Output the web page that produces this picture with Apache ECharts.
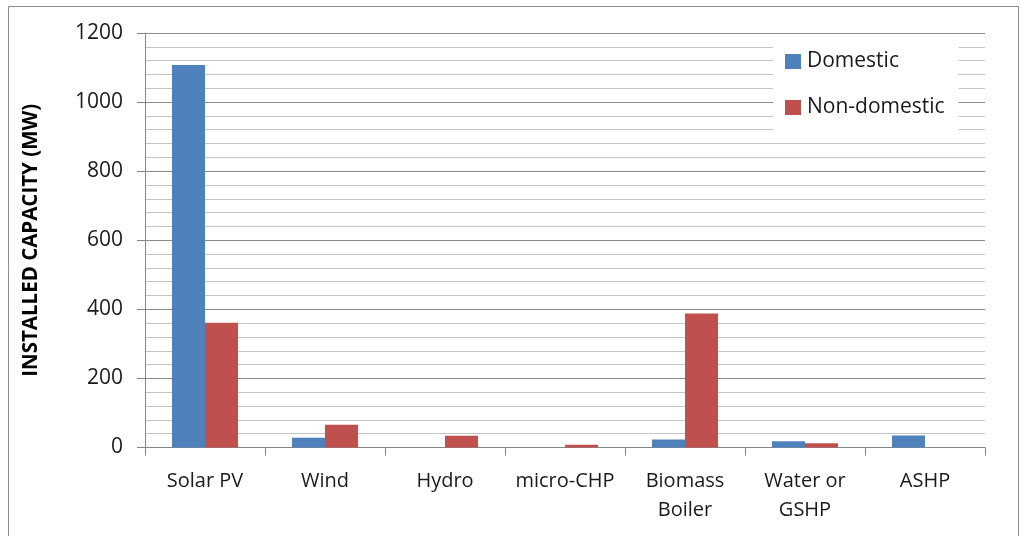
<!DOCTYPE html>
<html><head><meta charset="utf-8">
<script src="https://cdn.jsdelivr.net/npm/echarts@6/dist/echarts.min.js"></script>
<style>html,body{margin:0;padding:0;background:#fff}#c{width:1021px;height:536px}</style>
</head><body><div id="c"></div>
<script>
const categories = ['Solar PV','Wind','Hydro','micro-CHP','Biomass\nBoiler','Water or\nGSHP','ASHP'];
const domestic = [1107, 28, 0, 0, 23, 18, 35];
const nonDomestic = [361, 66, 34, 8, 388, 12, 0];
const yTicks = {min: 0, max: 1200, interval: 200};

const chart = echarts.init(document.getElementById('c'), null, {renderer: 'canvas'});
const font = 'Open Sans';
chart.setOption({
  animation: false,
  backgroundColor: '#fff',
  graphic: [{type: 'rect', shape: {x: 8.5, y: 6.5, width: 1010, height: 540}, style: {fill: 'none', stroke: '#8c8c8c', lineWidth: 1}, z: -1}],
  grid: {left: 145, right: 36, top: 33, bottom: 88.5, containLabel: false},
  legend: {
    orient: 'vertical', left: 773, top: 37,
    backgroundColor: '#fff', padding: [14, 14, 14, 12],
    itemWidth: 16, itemHeight: 15, itemGap: 25,
    icon: 'rect',
    textStyle: {fontFamily: font, fontSize: 21, color: '#1a1a1a', padding: [0, 0, 0, 1]},
    data: ['Domestic', 'Non-domestic']
  },
  xAxis: {
    type: 'category', data: categories,
    axisLine: {lineStyle: {color: '#868686', width: 1}},
    axisTick: {show: true, length: 8, lineStyle: {color: '#868686'}},
    axisLabel: {fontFamily: font, fontSize: 20, color: '#1a1a1a', margin: 19, lineHeight: 29, interval: 0, hideOverlap: false},
    splitLine: {show: false}
  },
  yAxis: {
    type: 'value', min: yTicks.min, max: yTicks.max, interval: yTicks.interval,
    name: 'INSTALLED CAPACITY (MW)', nameLocation: 'middle', nameGap: 103,
    nameTextStyle: {fontFamily: font, fontSize: 20.5, fontWeight: 'bold', color: '#000'},
    axisLine: {show: true, lineStyle: {color: '#868686'}},
    axisTick: {show: true, length: 8, lineStyle: {color: '#868686'}},
    axisLabel: {fontFamily: font, fontSize: 21, color: '#1a1a1a', margin: 22, formatter: v => String(v)},
    splitLine: {show: true, lineStyle: {color: '#8a8a8a', width: 1}},
    minorTick: {show: false, splitNumber: 5},
    minorSplitLine: {show: true, lineStyle: {color: '#c4c4c4', width: 1}}
  },
  series: [
    {name: 'Domestic', type: 'bar', data: domestic, barWidth: 33, barGap: '0%', itemStyle: {color: '#4F81BD'}},
    {name: 'Non-domestic', type: 'bar', data: nonDomestic, barWidth: 33, barGap: '0%', itemStyle: {color: '#C0504D'}}
  ]
});
</script></body></html>
